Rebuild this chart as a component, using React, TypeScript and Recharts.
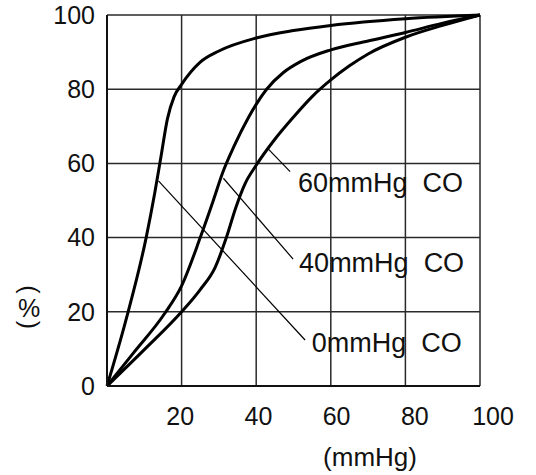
import {
  CartesianGrid,
  Line,
  LineChart,
  ReferenceDot,
  ReferenceLine,
  XAxis,
  YAxis,
} from 'recharts'

// partial pressure of O2 (mmHg) vs saturation (%), one curve per CO level
const curveNames = ['0mmHg  CO', '40mmHg  CO', '60mmHg  CO']

const co0Pressure = [0, 5, 10.5, 12.8, 14.5, 16.2, 18, 20, 25, 30, 40, 50, 60, 80, 100]
const co0Saturation = [0, 17.5, 40, 52, 62, 72, 78, 81.3, 87.3, 90.3, 93.8, 95.8, 97.2, 99, 100]

const co40Pressure = [0, 7, 15.5, 20, 25, 28.5, 31, 34, 38, 42.8, 47.3, 52, 60, 70, 80, 90, 100]
const co40Saturation = [0, 8.8, 19.6, 27, 40, 50, 57.5, 64.5, 72.5, 80, 84.5, 87.5, 90.6, 93, 95.3, 97.8, 100]

const co60Pressure = [0, 10, 20, 25, 29, 32, 34.5, 37, 40, 45, 50, 55, 60, 65, 70, 80, 90, 100]
const co60Saturation = [0, 9.8, 20, 26, 32, 40, 48, 54.5, 59.5, 66.5, 72.5, 78, 82.5, 86.3, 89.5, 94, 97.2, 100]

const xTicks = [20, 40, 60, 80, 100]
const yTicks = [0, 20, 40, 60, 80, 100]

// leader lines from each curve to its label, in chart units
const leaderFrom = [
  [13.8, 55.3],
  [31.2, 56],
  [43.2, 63.9],
]
const leaderTo = [
  [53.1, 12.4],
  [49.9, 34.2],
  [49.1, 57.8],
]
const labelAt = [
  [54.9, 9.2],
  [51.5, 30.8],
  [51.2, 52.3],
]

const toPoints = (xs: number[], ys: number[]) => xs.map((x, i) => ({ x, y: ys[i] }))

const curves = [
  toPoints(co0Pressure, co0Saturation),
  toPoints(co40Pressure, co40Saturation),
  toPoints(co60Pressure, co60Saturation),
]

const ink = '#111'

function XTick(props: any) {
  const { x, y, payload } = props
  // the printed labels drift slightly right of their gridlines
  const shift = payload.value * 0.18 - 5
  return (
    <text x={x + shift} y={y} dy="0.71em" textAnchor="middle" fill={ink} fontSize={25}>
      {payload.value}
    </text>
  )
}

function PercentLabel(props: any) {
  const { x, y, height } = props.viewBox
  const cx = x + 27
  const bottom = y + height
  const topArc = bottom - 96.5
  const lowArc = bottom - 61
  return (
    <g fill={ink} fontSize={25}>
      <g transform={`translate(${cx} ${topArc}) rotate(90)`}>
        <text x={0} y={0} dy={6.4} textAnchor="middle">
          (
        </text>
      </g>
      <text x={cx + 2} y={bottom - 69} textAnchor="middle">
        %
      </text>
      <g transform={`translate(${cx} ${lowArc}) rotate(90)`}>
        <text x={0} y={0} dy={6.4} textAnchor="middle">
          )
        </text>
      </g>
    </g>
  )
}

function UnitLabel(props: any) {
  const { x, y, width, height } = props.viewBox
  return (
    <text x={x + width - 110} y={y + height - 9} textAnchor="middle" fill={ink} fontSize={26}>
      (mmHg)
    </text>
  )
}

function CurveName(text: string) {
  return (props: any) => (
    <text
      x={props.viewBox.x}
      y={props.viewBox.y}
      fill={ink}
      fontSize={27}
      style={{ whiteSpace: 'pre' }}
    >
      {text}
    </text>
  )
}

export default function App() {
  return (
    <div
      style={{
        position: 'absolute',
        left: 0,
        top: 0,
        background: '#fff',
        fontFamily: '"Liberation Sans", Arial, sans-serif',
      }}
    >
      <LineChart width={536} height={475} margin={{ top: 15, right: 56, bottom: 0, left: 0 }}>
        <CartesianGrid stroke="#2a2a2a" strokeWidth={1.5} />
        <XAxis
          type="number"
          dataKey="x"
          domain={[0, 100]}
          ticks={xTicks}
          height={89}
          axisLine={{ stroke: '#111', strokeWidth: 2 }}
          tickLine={false}
          tickMargin={15}
          tick={<XTick />}
          label={UnitLabel}
        />
        <YAxis
          type="number"
          domain={[0, 100]}
          ticks={yTicks}
          width={107}
          axisLine={{ stroke: '#111', strokeWidth: 2 }}
          tickLine={false}
          tickMargin={6}
          tick={{ fill: ink, fontSize: 25 }}
          label={PercentLabel}
        />
        {curves.map((points, i) => (
          <Line
            key={curveNames[i]}
            data={points}
            dataKey="y"
            type="monotone"
            stroke="#000"
            strokeWidth={3}
            dot={false}
            activeDot={false}
            isAnimationActive={false}
          />
        ))}
        {curveNames.map((name, i) => (
          <ReferenceLine
            key={`leader-${name}`}
            segment={[
              { x: leaderFrom[i][0], y: leaderFrom[i][1] },
              { x: leaderTo[i][0], y: leaderTo[i][1] },
            ]}
            stroke="#000"
            strokeWidth={1.2}
          />
        ))}
        {curveNames.map((name, i) => (
          <ReferenceDot
            key={`label-${name}`}
            x={labelAt[i][0]}
            y={labelAt[i][1]}
            r={0}
            fill="none"
            stroke="none"
            label={CurveName(name)}
          />
        ))}
      </LineChart>
    </div>
  )
}
